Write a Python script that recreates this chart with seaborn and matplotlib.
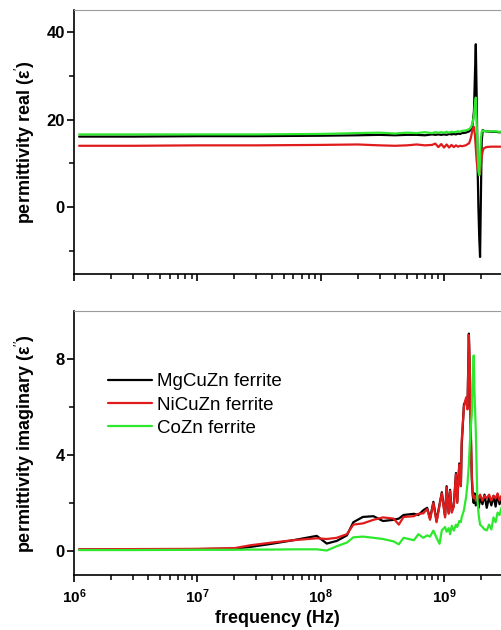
import pandas as pd
import numpy as np
import matplotlib.pyplot as plt
from matplotlib.ticker import FixedLocator, LogLocator, NullFormatter
import seaborn as sns

# samples and colours
samples = ['MgCuZn ferrite', 'NiCuZn ferrite', 'CoZn ferrite']
colors = ['#000000', '#e01b1b', '#2ee82e']

# real part
freq_real = [1.1e6, 3e6, 1e7, 3e7, 1e8, 2e8, 3e8, 4e8, 5e8, 6e8, 7e8, 8e8, 8.5e8, 9e8, 9.5e8,
             1.0e9, 1.05e9, 1.1e9, 1.15e9, 1.2e9, 1.25e9, 1.3e9, 1.35e9, 1.4e9, 1.5e9,
             1.6e9, 1.65e9, 1.7e9, 1.75e9, 1.78e9, 1.81e9, 1.84e9, 1.87e9, 1.9e9, 1.93e9,
             1.96e9, 1.99e9, 2.02e9, 2.06e9, 2.1e9, 2.2e9, 2.4e9, 2.6e9, 2.8e9, 3.0e9]
real_mg = [16.1, 16.1, 16.2, 16.2, 16.3, 16.4, 16.5, 16.4, 16.5, 16.5, 16.4, 16.6, 16.5, 16.6, 16.5,
           16.6, 16.5, 16.7, 16.6, 16.7, 16.6, 16.8, 16.7, 16.9, 17.0,
           17.3, 17.7, 18.6, 22.0, 30.0, 37.2, 25.0, 10.0, 0.0, -7.0,
           -11.4, 2.0, 15.0, 17.6, 17.4, 17.3, 17.2, 17.2, 17.1, 17.1]
real_ni = [14.0, 14.0, 14.1, 14.1, 14.2, 14.3, 14.1, 14.0, 14.1, 14.3, 14.1, 14.2, 14.5, 13.7, 14.4,
           13.6, 14.3, 13.6, 14.2, 13.7, 14.1, 13.8, 14.0, 13.9, 14.1,
           14.6, 15.8, 17.6, 18.3, 16.5, 13.5, 10.5, 8.8, 7.9, 7.5,
           7.6, 9.5, 11.5, 12.8, 13.4, 13.7, 13.8, 13.8, 13.8, 13.8]
real_co = [16.6, 16.6, 16.6, 16.6, 16.7, 16.9, 17.0, 16.8, 17.0, 16.9, 17.1, 16.9, 17.1, 17.0, 17.1,
           17.0, 17.2, 17.0, 17.2, 17.1, 17.2, 17.3, 17.2, 17.4, 17.5,
           17.8, 18.2, 19.0, 21.0, 23.5, 25.0, 19.5, 13.0, 9.0, 7.3,
           11.0, 15.5, 17.2, 17.5, 17.4, 17.3, 17.3, 17.3, 17.2, 17.2]

# imaginary part
freq_imag = [1.1e6, 3e6, 1e7, 2e7, 2.7e7, 4e7, 6e7, 9.3e7, 1.12e8, 1.35e8,
             1.63e8, 1.84e8, 2.2e8, 2.68e8, 3.2e8, 3.9e8, 4.3e8, 4.7e8, 5.7e8, 6.2e8,
             6.8e8, 7.3e8, 7.7e8, 8.2e8, 8.7e8, 9.2e8, 9.6e8, 1.02e9, 1.05e9, 1.09e9,
             1.12e9, 1.155e9, 1.2e9, 1.25e9, 1.28e9, 1.33e9, 1.37e9, 1.39e9, 1.45e9, 1.51e9,
             1.55e9, 1.59e9, 1.62e9, 1.65e9, 1.68e9, 1.71e9, 1.74e9, 1.77e9, 1.81e9, 1.86e9,
             1.91e9, 1.96e9, 2.05e9, 2.13e9, 2.22e9, 2.32e9, 2.42e9, 2.52e9, 2.62e9, 2.72e9,
             2.82e9, 2.92e9]
imag_mg = [0.06, 0.07, 0.08, 0.10, 0.17, 0.30, 0.45, 0.63, 0.31, 0.42,
           0.65, 1.20, 1.42, 1.45, 1.25, 1.30, 1.35, 1.50, 1.55, 1.50,
           1.70, 1.80, 1.35, 2.05, 1.25, 1.95, 2.45, 1.45, 2.70, 1.60,
           2.55, 1.65, 1.90, 3.25, 2.05, 3.65, 2.75, 4.35, 6.10, 6.30,
           6.00, 9.06, 7.40, 4.80, 3.00, 2.30, 2.00, 2.40, 1.90, 2.30,
           1.80, 2.20, 1.95, 2.35, 1.80, 2.25, 1.90, 2.30, 1.85, 2.35,
           1.95, 2.25]
imag_ni = [0.07, 0.08, 0.09, 0.12, 0.24, 0.35, 0.45, 0.53, 0.50, 0.55,
           0.70, 1.10, 1.15, 1.30, 1.40, 1.35, 1.10, 1.42, 1.45, 1.55,
           1.57, 1.75, 1.30, 2.00, 1.20, 1.90, 2.40, 1.40, 2.65, 1.55,
           2.50, 1.60, 1.85, 3.20, 2.00, 3.60, 2.70, 4.60, 6.00, 6.40,
           5.90, 9.00, 7.50, 5.00, 3.20, 2.40, 2.20, 2.30, 2.10, 2.30,
           2.20, 2.35, 2.10, 2.30, 2.20, 2.35, 2.10, 2.30, 2.20, 2.40,
           2.10, 2.30]
imag_co = [0.04, 0.04, 0.05, 0.05, 0.06, 0.06, 0.07, 0.07, 0.02, 0.20,
           0.35, 0.57, 0.60, 0.55, 0.50, 0.40, 0.28, 0.55, 0.45, 0.70,
           0.55, 0.65, 0.60, 0.85, 0.55, 0.30, 0.86, 1.00, 0.80, 0.95,
           0.70, 1.05, 0.85, 1.10, 1.00, 1.25, 1.20, 1.40, 1.70, 2.25,
           2.80, 3.60, 4.50, 5.20, 5.70, 7.00, 8.15, 6.50, 5.00, 2.25,
           1.50, 1.10, 1.00, 0.90, 0.86, 1.10, 0.90, 1.40, 1.20, 1.60,
           1.50, 1.80]

x_ticks = [1e6, 1e7, 1e8, 1e9]
x_tick_labels = [r'$\mathbf{10^{6}}$', r'$\mathbf{10^{7}}$', r'$\mathbf{10^{8}}$', r'$\mathbf{10^{9}}$']


def long_form(freq, series):
    parts = [pd.DataFrame({'freq': freq, 'value': v, 'sample': s}) for s, v in zip(samples, series)]
    return pd.concat(parts, ignore_index=True)


df_real = long_form(freq_real, [real_mg, real_ni, real_co])
df_imag = long_form(freq_imag, [imag_mg, imag_ni, imag_co])

sns.set_style('ticks')
plt.rcParams['font.family'] = ['Liberation Sans', 'DejaVu Sans']
plt.rcParams['mathtext.fontset'] = 'custom'
plt.rcParams['mathtext.rm'] = 'Liberation Sans'
plt.rcParams['mathtext.bf'] = 'Liberation Sans:bold'
plt.rcParams['mathtext.it'] = 'Liberation Sans:italic'
for key in ('text.color', 'axes.labelcolor', 'xtick.color', 'ytick.color'):
    plt.rcParams[key] = 'black'

fig = plt.figure(figsize=(5.01, 6.30), dpi=100)
ax1 = fig.add_axes([0.1477, 0.565, 0.8523, 0.419])
ax2 = fig.add_axes([0.1477, 0.0873, 0.8523, 0.419])

sns.lineplot(data=df_real, x='freq', y='value', hue='sample', hue_order=samples,
             palette=colors, estimator=None, sort=False, lw=1.6, legend=False, ax=ax1)
sns.lineplot(data=df_imag, x='freq', y='value', hue='sample', hue_order=samples,
             palette=colors, estimator=None, sort=False, lw=1.6, legend=False, ax=ax2)

for ax in (ax1, ax2):
    ax.set_xscale('log')
    ax.set_xlim(1e6, 10 ** 9.462)
    ax.xaxis.set_major_locator(FixedLocator(x_ticks))
    ax.xaxis.set_minor_locator(LogLocator(base=10, subs=np.arange(2, 10)))
    ax.xaxis.set_minor_formatter(NullFormatter())
    ax.spines['right'].set_visible(False)
    ax.spines['top'].set_color('#9a9a9a')
    ax.spines['top'].set_linewidth(0.8)
    for side in ('left', 'bottom'):
        ax.spines[side].set_color('black')
        ax.spines[side].set_linewidth(1.2)
    ax.tick_params(which='major', direction='out', length=5, width=1.2, color='black')
    ax.tick_params(which='minor', direction='out', length=3.3, width=1.1, color='black')
    ax.tick_params(axis='y', which='both', pad=1.5, labelsize=12, labelcolor='black')
    ax.tick_params(axis='x', which='both', top=False, pad=4, labelsize=11, labelcolor='black')
    ax.set_xlabel('')
    ax.set_ylabel('')

# top panel
ax1.set_ylim(-15.3, 45)
ax1.yaxis.set_major_locator(FixedLocator([0, 20, 40]))
ax1.yaxis.set_minor_locator(FixedLocator([-10, 10, 30]))
ax1.set_xticklabels([])
ax1.set_ylabel('permittivity real (ε$^{\\prime}$)', fontsize=13, fontweight='bold')
ax1.yaxis.set_label_coords(-0.087, 0.5)

# bottom panel
ax2.set_ylim(-1, 10)
ax2.yaxis.set_major_locator(FixedLocator([0, 4, 8]))
ax2.yaxis.set_minor_locator(FixedLocator([2, 6]))
ax2.set_xticklabels(x_tick_labels)
ax2.set_ylabel('permittivity imaginary (ε$^{\\prime\\prime}$)', fontsize=13, fontweight='bold')
ax2.yaxis.set_label_coords(-0.087, 0.5)
ax2.set_xlabel('frequency (Hz)', fontsize=13, fontweight='bold')
ax2.xaxis.set_label_coords(0.477, -0.133)

for ax in (ax1, ax2):
    for lab in ax.get_yticklabels():
        lab.set_fontweight('bold')

ax2.legend(ax2.lines[:3], samples, loc='upper left', bbox_to_anchor=(0.08, 0.765),
           frameon=False, fontsize=13.5, handlelength=2.35, handletextpad=0.25,
           labelspacing=0.33, borderpad=0, borderaxespad=0)

plt.savefig('out.png', dpi=100)
